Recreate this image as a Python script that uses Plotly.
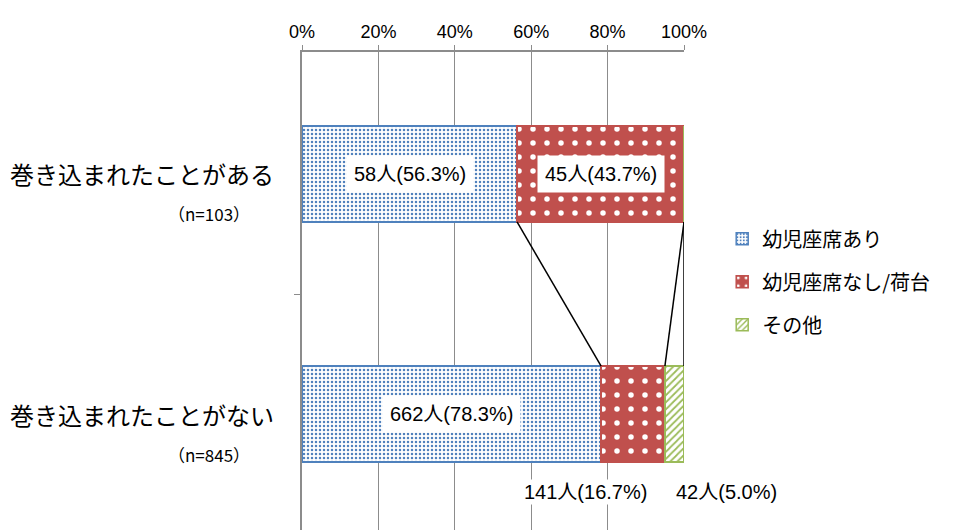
import plotly.graph_objects as go

# Survey groups (top row first) and respondent counts
groups = ["巻き込まれたことがある", "巻き込まれたことがない"]
group_n = ["（n=103）", "（n=845）"]
row_pos = [1, 0]

# Seat type series: counts and shares (%) for each group
series_names = ["幼児座席あり", "幼児座席なし/荷台", "その他"]
counts = [[58, 662], [45, 141], [0, 42]]
shares = [[56.3, 78.3], [43.7, 16.7], [0.0, 5.0]]

x_ticks = [0, 20, 40, 60, 80, 100]

colors = ["#4F81BD", "#C0504D", "#9BBB59"]
patterns = [
    dict(shape=".", fgcolor="#4F81BD", bgcolor="white", size=4, solidity=0.3, fillmode="replace"),
    dict(shape=".", fgcolor="white", bgcolor="#C0504D", size=14, solidity=0.12, fillmode="replace"),
    dict(shape="/", fgcolor="#9BBB59", bgcolor="white", size=5, solidity=0.35, fillmode="replace"),
]

BAR_W = 0.4
GRID = "#8C8C8C"
NUM_FONT = "Liberation Sans, Arial, Noto Sans CJK JP"
JP_FONT = "Noto Sans CJK JP, Liberation Sans"

fig = go.Figure()

for i, name in enumerate(series_names):
    fig.add_trace(go.Bar(
        name=name,
        orientation="h",
        x=[v / 100 for v in shares[i]],
        y=row_pos,
        width=BAR_W,
        marker=dict(color=colors[i], pattern=patterns[i],
                    line=dict(color=colors[i], width=1.5)),
        legendgroup=name,
        hoverinfo="skip",
    ))

# Cumulative edges of each series in each row
cum = []
run = [0.0, 0.0]
for i in range(len(series_names)):
    start = run[:]
    run = [run[k] + shares[i][k] for k in range(2)]
    cum.append((start, run[:]))

# Series lines joining the right edge of each series between the two bars
for i in range(len(series_names)):
    end = cum[i][1]
    fig.add_trace(go.Scatter(
        x=[end[0] / 100, end[1] / 100],
        y=[row_pos[0] - BAR_W / 2, row_pos[1] + BAR_W / 2],
        mode="lines",
        line=dict(color="black", width=1.5),
        showlegend=False,
        hoverinfo="skip",
    ))

annotations = []

# Value labels: inside the wide segments, below the bar for the narrow ones
for i in range(len(series_names)):
    for k in range(2):
        if counts[i][k] == 0:
            continue
        start, end = cum[i][0][k], cum[i][1][k]
        text = f"{counts[i][k]}人({shares[i][k]:.1f}%)"
        ann = dict(
            x=(start + end) / 200, y=row_pos[k], xref="x", yref="y",
            text=text, showarrow=False, bgcolor="white", borderpad=7,
            font=dict(family=NUM_FONT, size=20, color="black"),
        )
        if k == 1 and i > 0:
            ann["yshift"] = -78
            ann["borderpad"] = 1
            ann["xshift"] = -48 if i == 1 else 52
        annotations.append(ann)

# Category labels with respondent counts
for k in range(2):
    annotations.append(dict(
        x=0, y=row_pos[k], xref="paper", yref="y", xanchor="right",
        xshift=-26, text=groups[k], showarrow=False,
        font=dict(family=JP_FONT, size=24, color="black"),
    ))
    annotations.append(dict(
        x=0, y=row_pos[k], xref="paper", yref="y", xanchor="right",
        xshift=-50, yshift=-40, text=group_n[k], showarrow=False,
        font=dict(family=JP_FONT, size=17, color="black"),
    ))

fig.update_layout(
    width=957, height=530,
    margin=dict(l=302, r=273, t=52, b=0),
    plot_bgcolor="white", paper_bgcolor="white",
    barmode="stack",
    showlegend=True,
    legend=dict(
        x=1.1, y=0.65, xanchor="left", yanchor="top",
        traceorder="grouped", tracegroupgap=14,
        font=dict(family=JP_FONT, size=20, color="black"),
        bgcolor="rgba(0,0,0,0)",
    ),
    annotations=annotations,
    xaxis=dict(
        side="top", range=[0, 1],
        tickvals=[t / 100 for t in x_ticks],
        ticktext=[f"{t}%" for t in x_ticks],
        showgrid=True, gridcolor=GRID, gridwidth=1,
        showline=True, linecolor=GRID, linewidth=1.5,
        ticks="outside", ticklen=5, tickcolor=GRID,
        tickfont=dict(family=NUM_FONT, size=18, color="black"),
        zeroline=False, fixedrange=True,
    ),
    yaxis=dict(
        range=[-0.483, 1.508],
        tickvals=[0.5], showticklabels=False,
        ticks="outside", ticklen=6, tickcolor=GRID,
        showline=True, linecolor=GRID, linewidth=1.5,
        showgrid=False, zeroline=False, fixedrange=True,
    ),
)

fig.write_html("out.html")
